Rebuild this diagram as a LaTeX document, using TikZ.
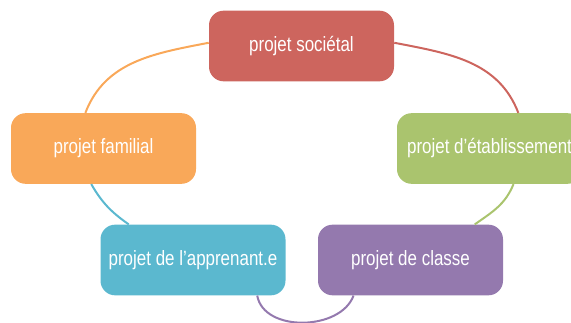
\documentclass[tikz,border=0pt]{standalone}
\usepackage{fontspec}
\setmainfont[FakeStretch=0.82]{Liberation Sans}
\usepackage{tikz}
\usepackage{color}
\definecolor{socRed}{RGB}{205,101,94}
\definecolor{famOrange}{RGB}{249,168,89}
\definecolor{etabGreen}{RGB}{170,196,110}
\definecolor{classPurple}{RGB}{148,121,174}
\definecolor{apprBlue}{RGB}{91,184,207}

\begin{document}
\begin{tikzpicture}[x=0.75pt, y=0.75pt,
    projet/.style={draw=none, rounded corners=11pt, minimum width=138.75pt, minimum height=53pt, inner sep=0pt, text=white, font=\fontsize{15.5}{18}\selectfont},
    arc/.style={line width=1.5pt}]
            \useasboundingbox (0,0) rectangle (571,-323);
            % Boxes
            \node[projet, fill=socRed] (societal) at (301.5,-46) {projet sociétal};
            \node[projet, fill=famOrange] (familial) at (103.5,-148.5) {projet familial};
            \node[projet, fill=etabGreen] (etablissement) at (489.5,-148.5) {projet d’établissement};
            \node[projet, fill=apprBlue] (apprenant) at (193,-260) {projet de l’apprenant.e};
            \node[projet, fill=classPurple] (classe) at (410.5,-260) {projet de classe};
            % Arcs
            \draw[arc, socRed] (societal.2) to[out=-11, in=111] (etablissement.51);
            \draw[arc, etabGreen] (etablissement.-56) to[out=248, in=35] (classe.29);
            \draw[arc, classPurple] (apprenant.-29) to[out=280, in=250] (classe.212);
            \draw[arc, apprBlue] (familial.251) to[out=300, in=145] (apprenant.151);
            \draw[arc, famOrange] (societal.178) to[out=191, in=69] (familial.117);
        \end{tikzpicture}
\end{document}
